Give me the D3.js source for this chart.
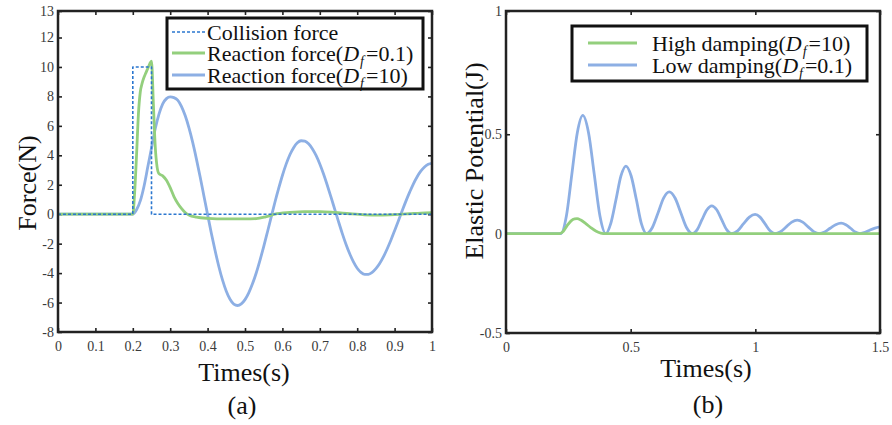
<!DOCTYPE html>
<html>
<head>
<meta charset="utf-8">
<script src="https://cdn.jsdelivr.net/npm/d3@7"></script>
<style>
  body { margin: 0; background: #fff; }
  svg { display: block; font-family: 'Liberation Serif', 'Times New Roman', serif; }
</style>
</head>
<body>
<div id="chart"></div>
<script>
// ---- data, panel (a): force vs time ----
const forceTicksX = [0, 0.1, 0.2, 0.3, 0.4, 0.5, 0.6, 0.7, 0.8, 0.9, 1]
const forceTickLabelsX = ['0', '0.1', '0.2', '0.3', '0.4', '0.5', '0.6', '0.7', '0.8', '0.9', '1']
const forceTicksY = [-8, -6, -4, -2, 0, 2, 4, 6, 8, 10, 12, 13.8]
const forceTickLabelsY = ['-8', '-6', '-4', '-2', '0', '2', '4', '6', '8', '10', '12', '13']

const collisionT = [0, 0.2, 0.2, 0.25, 0.25, 1]
const collisionF = [0, 0, 10, 10, 0, 0]

const reactionLowT = [0, 0.2, 0.205, 0.21, 0.215, 0.22, 0.225, 0.23, 0.235, 0.24,
  0.245, 0.25, 0.255, 0.26, 0.265, 0.27, 0.28, 0.29, 0.30, 0.31,
  0.32, 0.33, 0.34, 0.35, 0.37, 0.40, 0.45, 0.50, 0.53, 0.555,
  0.58, 0.62, 0.66, 0.70, 0.74, 0.78, 0.82, 0.86, 0.90, 0.94, 0.97, 1.0]
const reactionLowF = [0, 0, 1.5, 4.0, 6.8, 8.3, 8.9, 9.3, 9.6, 9.9,
  10.2, 10.4, 7.5, 4.6, 3.2, 2.75, 2.6, 2.3, 1.8, 1.2,
  0.75, 0.4, 0.12, -0.05, -0.2, -0.28, -0.32, -0.32, -0.3, -0.18,
  0.0, 0.12, 0.18, 0.18, 0.12, 0.03, -0.04, -0.06, -0.03, 0.03, 0.08, 0.1]

const reactionHighT = [0, 0.20, 0.21, 0.22, 0.23, 0.24, 0.25, 0.26, 0.27, 0.28, 0.29,
  0.30, 0.31, 0.32, 0.33, 0.34, 0.35, 0.36, 0.37, 0.38, 0.39,
  0.40, 0.41, 0.42, 0.43, 0.44, 0.45, 0.46, 0.47, 0.48, 0.49,
  0.50, 0.51, 0.52, 0.53, 0.54, 0.55, 0.56, 0.57, 0.58, 0.59,
  0.60, 0.61, 0.62, 0.63, 0.64, 0.65, 0.66, 0.67, 0.68, 0.69,
  0.70, 0.71, 0.72, 0.73, 0.74, 0.75, 0.76, 0.77, 0.78, 0.79,
  0.80, 0.81, 0.82, 0.83, 0.84, 0.85, 0.86, 0.87, 0.88, 0.89,
  0.90, 0.91, 0.92, 0.93, 0.94, 0.95, 0.96, 0.97, 0.98, 0.99, 1.00]
const reactionHighF = [0, 0, 0.3, 0.9, 1.9, 3.2, 4.5, 5.8, 6.8, 7.5, 7.85,
  7.97, 7.92, 7.75, 7.33, 6.70, 5.88, 4.89, 3.76, 2.54, 1.26,
  -0.03, -1.29, -2.47, -3.55, -4.48, -5.23, -5.78, -6.11, -6.2, -6.09,
  -5.80, -5.34, -4.73, -3.99, -3.13, -2.20, -1.21, -0.20, 0.81, 1.75,
  2.63, 3.40, 4.04, 4.52, 4.85, 4.99, 4.96, 4.78, 4.45, 3.99,
  3.41, 2.73, 1.97, 1.16, 0.33, -0.50, -1.30, -2.04, -2.69, -3.24,
  -3.67, -3.95, -4.09, -4.08, -3.95, -3.70, -3.35, -2.90, -2.36, -1.77,
  -1.12, -0.46, 0.21, 0.87, 1.48, 2.05, 2.53, 2.92, 3.21, 3.39, 3.45]

// ---- data, panel (b): elastic potential vs time ----
const energyTicksX = [0, 0.5, 1, 1.5]
const energyTickLabelsX = ['0', '0.5', '1', '1.5']
const energyTicksY = [-0.5, 0, 0.5, 1.12]
const energyTickLabelsY = ['-0.5', '0', '0.5', '1']

const highDampT = [0, 0.215, 0.23, 0.245, 0.26, 0.275, 0.285, 0.30, 0.32, 0.34, 0.36, 0.38, 0.40, 1.5]
const highDampE = [0, 0, 0.012, 0.04, 0.063, 0.074, 0.075, 0.068, 0.05, 0.03, 0.013, 0.003, 0, 0]

const lowDampT = [0, 0.22, 0.242, 0.264, 0.286, 0.308, 0.331, 0.354, 0.377, 0.40,
  0.42, 0.441, 0.461, 0.481, 0.502, 0.523, 0.543, 0.564, 0.587, 0.61,
  0.632, 0.655, 0.678, 0.701, 0.724, 0.747, 0.767, 0.786, 0.806, 0.825,
  0.845, 0.865, 0.885, 0.905, 0.929, 0.952, 0.976, 0.999, 1.019, 1.039,
  1.059, 1.079, 1.101, 1.124, 1.146, 1.168, 1.19, 1.212, 1.234, 1.256,
  1.278, 1.30, 1.322, 1.344, 1.363, 1.382, 1.401, 1.42, 1.44, 1.46, 1.48, 1.5]
const lowDampE = [0, 0, 0.087, 0.298, 0.508, 0.595, 0.508, 0.298, 0.087, 0,
  0.05, 0.17, 0.29, 0.34, 0.29, 0.17, 0.05, 0, 0.031, 0.105,
  0.179, 0.21, 0.179, 0.105, 0.031, 0, 0.02, 0.07, 0.12, 0.14,
  0.12, 0.07, 0.02, 0, 0.014, 0.049, 0.083, 0.097, 0.083, 0.049,
  0.014, 0, 0.01, 0.034, 0.058, 0.068, 0.058, 0.034, 0.01, 0,
  0.008, 0.027, 0.045, 0.053, 0.045, 0.027, 0.008, 0, 0.006, 0.018, 0.028, 0.034]

// legend labels: [before, italic D, subscript, after]
const legendLabelsA = [['Collision force'], ['Reaction force(', 'D', 'f', '=0.1)'], ['Reaction force(', 'D', 'f', '=10)']]
const legendLabelsB = [['High damping(', 'D', 'f', '=10)'], ['Low damping(', 'D', 'f', '=0.1)']]

const serif = "'Liberation Serif', 'Times New Roman', serif"
const colors = { collision: '#2b77cf', green: '#93cf7d', blue: '#8dafe4', frame: '#222', tick: '#3a3a3a' }

const svg = d3.select('#chart').append('svg')
  .attr('width', 892)
  .attr('height', 425)

function drawFrame(x, y, tx, txLabels, ty, tyLabels) {
  let g = svg.append('g')
  let [x0, x1] = x.range()
  let [y0, y1] = y.range()

  g.append('g').attr('transform', `translate(0,${y0})`)
    .call(d3.axisBottom(x).tickValues(tx).tickFormat((d, i) => txLabels[i]).tickSizeInner(-4).tickSizeOuter(0).tickPadding(9))
  g.append('g').attr('transform', `translate(0,${y1})`)
    .call(d3.axisTop(x).tickValues(tx).tickFormat('').tickSizeInner(-4).tickSizeOuter(0))
  g.append('g').attr('transform', `translate(${x0},0)`)
    .call(d3.axisLeft(y).tickValues(ty).tickFormat((d, i) => tyLabels[i]).tickSizeInner(-4).tickSizeOuter(0).tickPadding(4))
  g.append('g').attr('transform', `translate(${x1},0)`)
    .call(d3.axisRight(y).tickValues(ty).tickFormat('').tickSizeInner(-4).tickSizeOuter(0))

  // axis groups get a sans-serif attribute from d3, put the serif back
  g.selectAll('g').attr('font-family', serif).attr('font-size', 14)
  g.selectAll('.domain').remove()
  g.selectAll('.tick line').attr('stroke', colors.frame).attr('stroke-width', 1.6)
  g.selectAll('.tick text').attr('fill', colors.tick)

  return g
}

function drawBox(x, y) {
  let [x0, x1] = x.range()
  let [y0, y1] = y.range()
  svg.append('rect')
    .attr('x', x0).attr('y', y1)
    .attr('width', x1 - x0).attr('height', y0 - y1)
    .attr('fill', 'none')
    .attr('stroke', colors.frame)
    .attr('stroke-width', 2.5)
}

function drawLine(x, y, ts, vs, color, width, dash, curve) {
  let line = d3.line()
    .x(d => x(d[0]))
    .y(d => y(d[1]))
    .curve(curve || d3.curveLinear)
  svg.append('path')
    .datum(d3.zip(ts, vs))
    .attr('d', line)
    .attr('fill', 'none')
    .attr('stroke', color)
    .attr('stroke-width', width)
    .attr('stroke-linejoin', 'round')
    .attr('stroke-dasharray', dash || null)
}

function drawLegend(box, rows, labels, styles) {
  svg.append('rect')
    .attr('x', box.x).attr('y', box.y)
    .attr('width', box.w).attr('height', box.h)
    .attr('fill', '#fff')
    .attr('stroke', '#111')
    .attr('stroke-width', 3)

  labels.forEach((parts, i) => {
    let cy = rows.y[i]
    svg.append('line')
      .attr('x1', rows.x1).attr('x2', rows.x2)
      .attr('y1', cy).attr('y2', cy)
      .attr('stroke', styles[i].color)
      .attr('stroke-width', styles[i].width)
      .attr('stroke-dasharray', styles[i].dash || null)

    let text = svg.append('text')
      .attr('x', rows.tx).attr('y', cy + 7.5)
      .attr('font-family', serif)
      .attr('font-size', 22)
      .attr('fill', '#111')
    text.append('tspan').text(parts[0])
    if (parts.length > 1) {
      text.append('tspan').attr('font-style', 'italic').text(parts[1])
      text.append('tspan').attr('font-style', 'italic').attr('font-size', 14).attr('dx', 1).attr('dy', 5).text(parts[2])
      text.append('tspan').attr('dy', -5).attr('dx', 2).text(parts[3])
    }
  })
}

function label(x, y, txt, rotate) {
  svg.append('text')
    .attr('transform', `translate(${x},${y})` + (rotate ? ' rotate(-90)' : ''))
    .attr('text-anchor', 'middle')
    .attr('font-family', serif)
    .attr('font-size', 26)
    .attr('fill', '#111')
    .text(txt)
}

// ---- panel (a) ----
let xA = d3.scaleLinear().domain([0, 1]).range([58, 432])
let yA = d3.scaleLinear().domain([-8, 13.8]).range([332, 11])

drawFrame(xA, yA, forceTicksX, forceTickLabelsX, forceTicksY, forceTickLabelsY)
drawLine(xA, yA, reactionHighT, reactionHighF, colors.blue, 2.8, null, d3.curveMonotoneX)
drawLine(xA, yA, reactionLowT, reactionLowF, colors.green, 2.8, null, d3.curveMonotoneX)
drawLine(xA, yA, collisionT, collisionF, colors.collision, 1.6, '3,2')
drawBox(xA, yA)
drawLegend({ x: 167, y: 18, w: 256, h: 71 },
  { y: [32, 53, 75], x1: 172, x2: 205, tx: 207 },
  legendLabelsA,
  [{ color: colors.collision, width: 1.6, dash: '3,2' }, { color: colors.green, width: 2.8 }, { color: colors.blue, width: 2.8 }])

label(36, 183, 'Force(N)', true)
label(244, 381, 'Times(s)')
label(242, 414, '(a)')

// ---- panel (b) ----
let xB = d3.scaleLinear().domain([0, 1.5]).range([506, 880])
let yB = d3.scaleLinear().domain([-0.5, 1.12]).range([333, 11])

drawFrame(xB, yB, energyTicksX, energyTickLabelsX, energyTicksY, energyTickLabelsY)
drawLine(xB, yB, lowDampT, lowDampE, colors.blue, 2.8, null, d3.curveMonotoneX)
drawLine(xB, yB, highDampT, highDampE, colors.green, 2.8, null, d3.curveMonotoneX)
drawBox(xB, yB)
drawLegend({ x: 572, y: 26, w: 295, h: 55 },
  { y: [43, 65], x1: 588, x2: 637, tx: 652 },
  legendLabelsB,
  [{ color: colors.green, width: 2.8 }, { color: colors.blue, width: 2.8 }])

label(483, 161, 'Elastic Potential(J)', true)
label(706, 377, 'Times(s)')
label(708, 413, '(b)')
</script>
</body>
</html>
